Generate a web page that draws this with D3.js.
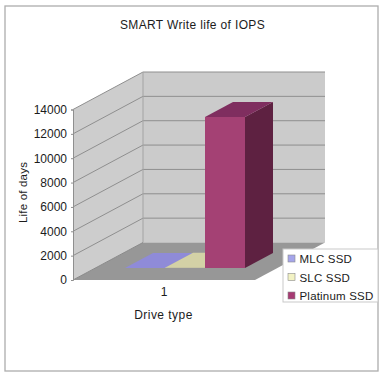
<!DOCTYPE html>
<html>
<head>
<meta charset="utf-8">
<script src="https://cdn.jsdelivr.net/npm/d3@7"></script>
<style>
  html, body { margin: 0; padding: 0; background: #fff; }
  text { font-family: "Liberation Sans", sans-serif; fill: #1c1c1c; }
</style>
</head>
<body>
<div id="chart"></div>
<script>
const categories = ["1"];
const seriesNames = ["MLC SSD", "SLC SSD", "Platinum SSD"];
const seriesValues = [10, 30, 12400];
const yTicks = [0, 2000, 4000, 6000, 8000, 10000, 12000, 14000];

const frontColors = ["#8f8bd8", "#d3d1a6", "#a44174"];
const topColors = ["#8f8bd8", "#d3d1a6", "#7f2e5f"];
const sideColors = ["#6c68a8", "#a8a67e", "#5e2141"];
const legendColors = ["#a5a5ea", "#f2f2c4", "#a63a72"];

const svg = d3.select("#chart").append("svg")
    .attr("width", 383)
    .attr("height", 377)
    .style("display", "block");

// chart frame
svg.append("rect")
    .attr("x", 5).attr("y", 6)
    .attr("width", 373).attr("height", 365)
    .attr("fill", "#fff")
    .attr("stroke", "#adadad")
    .attr("stroke-width", 1.3);

const y = d3.scaleLinear().domain([0, 14000]).range([280, 109.5]);
const x = d3.scaleBand().domain(categories).range([73, 255]);
const xBars = d3.scaleBand().domain(seriesNames).range([102.6, 222.6]);

// depth goes from front (0) to back wall (1)
const dx = d3.scaleLinear().domain([0, 1]).range([0, 70]);
const dy = d3.scaleLinear().domain([0, 1]).range([0, -37.5]);
const pt = (px, py, z) => [px + dx(z), py + dy(z)].join(",");

const x0 = x.range()[0], x1 = x.range()[1];
const yTop = y(14000), yBase = y(0);

// side wall
svg.append("polygon")
    .attr("points", [pt(x0, yBase, 0), pt(x0, yBase, 1), pt(x0, yTop, 1), pt(x0, yTop, 0)].join(" "))
    .attr("fill", "#cdcdcd");

// back wall
svg.append("polygon")
    .attr("points", [pt(x0, yBase, 1), pt(x1, yBase, 1), pt(x1, yTop, 1), pt(x0, yTop, 1)].join(" "))
    .attr("fill", "#cbcbcb");

// floor
svg.append("polygon")
    .attr("points", [pt(x0, yBase, 0), pt(x1, yBase, 0), pt(x1, yBase, 1), pt(x0, yBase, 1)].join(" "))
    .attr("fill", "#979797");

// gridlines
const grid = svg.append("g").attr("fill", "none").attr("stroke", "#8f8f8f").attr("stroke-width", 1);
yTicks.filter(d => d > 0).forEach(t => {
    grid.append("polyline").attr("points", [pt(x0, y(t), 0), pt(x0, y(t), 1), pt(x1, y(t), 1)].join(" "));
});
grid.append("line")
    .attr("x1", x0 + dx(1)).attr("x2", x0 + dx(1))
    .attr("y1", yTop + dy(1)).attr("y2", yBase + dy(1))
    .attr("stroke", "#a3a3a3");
grid.append("line")
    .attr("x1", x0).attr("x2", x0 + dx(1))
    .attr("y1", yBase).attr("y2", yBase + dy(1))
    .attr("stroke", "#8a8a8a");

// bars
const zFront = 0.32, zBack = 0.72;
const bars = svg.append("g").selectAll("g")
    .data(seriesNames)
    .enter().append("g");

bars.each(function(name, i) {
    const g = d3.select(this);
    const l = xBars(name), r = l + xBars.bandwidth();
    const b = y(0), t = y(seriesValues[i]);
    // right side
    g.append("polygon")
        .attr("points", [pt(r, b, zFront), pt(r, b, zBack), pt(r, t, zBack), pt(r, t, zFront)].join(" "))
        .attr("fill", sideColors[i]);
    // top
    g.append("polygon")
        .attr("points", [pt(l, t, zFront), pt(r, t, zFront), pt(r, t, zBack), pt(l, t, zBack)].join(" "))
        .attr("fill", topColors[i]);
    // front
    g.append("polygon")
        .attr("points", [pt(l, b, zFront), pt(r, b, zFront), pt(r, t, zFront), pt(l, t, zFront)].join(" "))
        .attr("fill", frontColors[i]);
});

// axes
const yAxis = d3.axisLeft(y).tickValues(yTicks).tickSize(2).tickPadding(4).tickFormat(d3.format("d"));
const gy = svg.append("g")
    .attr("transform", "translate(" + x0 + ",0)")
    .call(yAxis);
gy.select(".domain").attr("stroke", "#8f8f8f");
gy.selectAll(".tick line").attr("stroke", "#8f8f8f");
gy.selectAll("text").style("font-size", "12px").attr("fill", "#1c1c1c");

const xAxis = d3.axisBottom(x).tickSize(0).tickPadding(7);
const gx = svg.append("g")
    .attr("transform", "translate(0," + yBase + ")")
    .call(xAxis);
gx.select(".domain").remove();
gx.selectAll("text").style("font-size", "12px").attr("fill", "#1c1c1c");

// titles
svg.append("text")
    .attr("x", 192.5).attr("y", 29)
    .attr("text-anchor", "middle")
    .style("font-size", "12px")
    .style("letter-spacing", "0.35px")
    .text("SMART Write life of IOPS");

svg.append("text")
    .attr("x", 163.5).attr("y", 319)
    .attr("text-anchor", "middle")
    .style("font-size", "12px")
    .style("letter-spacing", "0.45px")
    .text("Drive type");

svg.append("text")
    .attr("transform", "translate(27,192.5) rotate(-90)")
    .attr("text-anchor", "middle")
    .style("font-size", "11.5px")
    .style("letter-spacing", "0.2px")
    .text("Life of days");

// legend
const legend = svg.append("g");
legend.append("rect")
    .attr("x", 283).attr("y", 249)
    .attr("width", 95).attr("height", 53)
    .attr("fill", "#fff")
    .attr("stroke", "#c9c9c9");

const legendY = d3.scalePoint().domain(seriesNames).range([258.5, 295.5]);
const items = legend.selectAll(".item")
    .data(seriesNames)
    .enter().append("g")
    .attr("class", "item")
    .attr("transform", d => "translate(288," + legendY(d) + ")");

items.append("rect")
    .attr("y", -3.5)
    .attr("width", 7).attr("height", 7)
    .attr("fill", (d, i) => legendColors[i])
    .attr("stroke", "#8a8a8a")
    .attr("stroke-width", 0.6);

items.append("text")
    .attr("x", 11.5).attr("y", 4.5)
    .style("font-size", "11.5px")
    .style("letter-spacing", "0.2px")
    .text(d => d);
</script>
</body>
</html>
